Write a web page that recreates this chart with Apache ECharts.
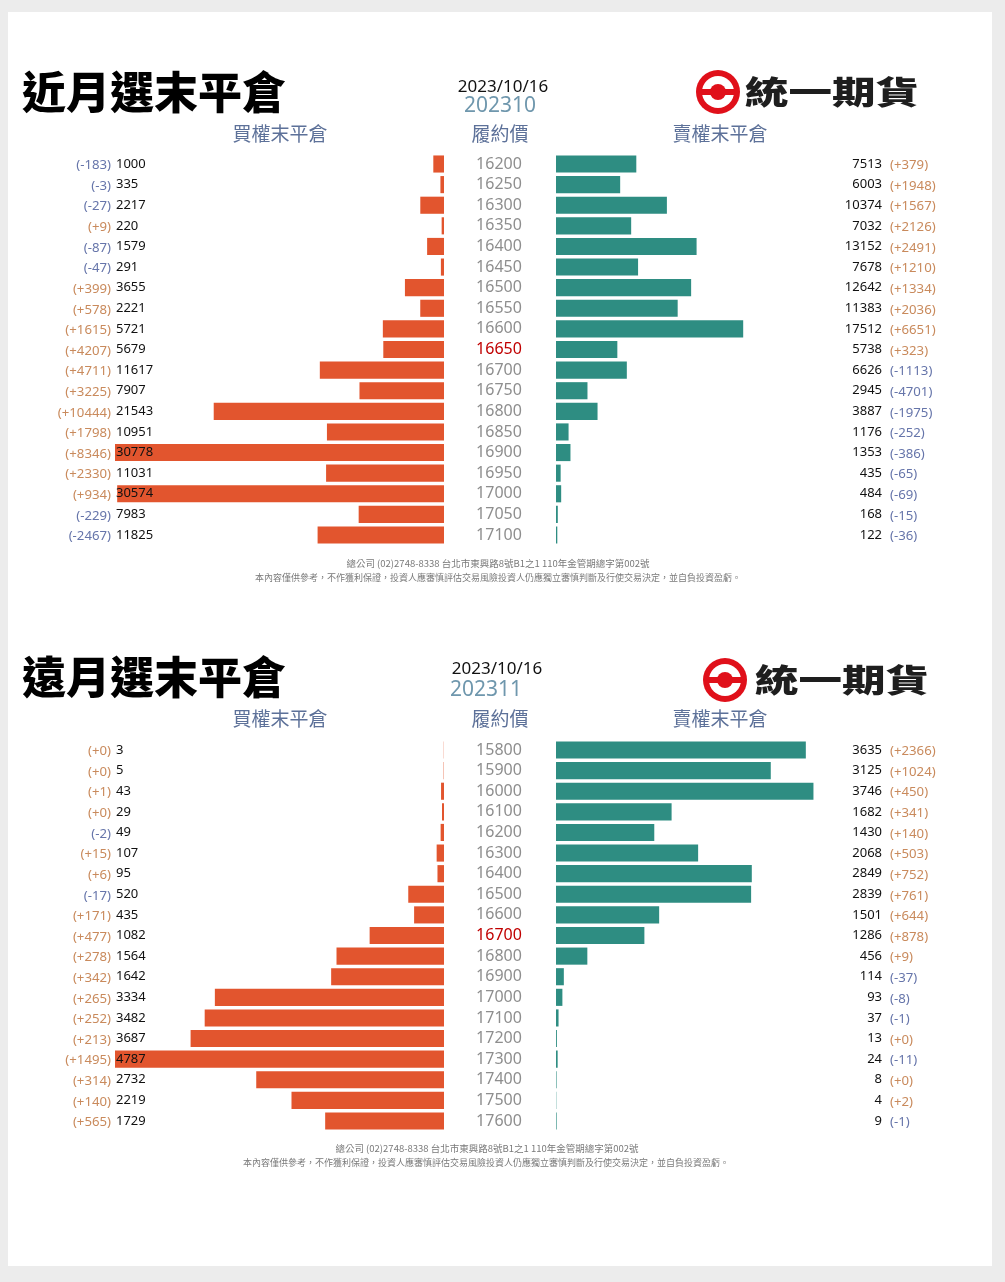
<!DOCTYPE html>
<html><head><meta charset="utf-8">
<script src="https://cdn.jsdelivr.net/npm/echarts@6/dist/echarts.min.js"></script>
<style>
html,body{margin:0;padding:0;background:#ececec;}
#card{position:absolute;left:8px;top:12px;width:984px;height:1254px;background:#fff;}
#chart{position:absolute;left:0;top:0;width:1005px;height:1282px;}
</style></head><body><div id="card"></div><div id="chart"></div>
<script>
// ---- near month (202310) ----
const nearStrikes = ['16200','16250','16300','16350','16400','16450','16500','16550','16600','16650','16700','16750','16800','16850','16900','16950','17000','17050','17100'];
const nearCallOI  = [1000,335,2217,220,1579,291,3655,2221,5721,5679,11617,7907,21543,10951,30778,11031,30574,7983,11825];
const nearCallChg = [-183,-3,-27,9,-87,-47,399,578,1615,4207,4711,3225,10444,1798,8346,2330,934,-229,-2467];
const nearPutOI   = [7513,6003,10374,7032,13152,7678,12642,11383,17512,5738,6626,2945,3887,1176,1353,435,484,168,122];
const nearPutChg  = [379,1948,1567,2126,2491,1210,1334,2036,6651,323,-1113,-4701,-1975,-252,-386,-65,-69,-15,-36];
const nearATM = '16650';

// ---- far month (202311) ----
const farStrikes = ['15800','15900','16000','16100','16200','16300','16400','16500','16600','16700','16800','16900','17000','17100','17200','17300','17400','17500','17600'];
const farCallOI  = [3,5,43,29,49,107,95,520,435,1082,1564,1642,3334,3482,3687,4787,2732,2219,1729];
const farCallChg = [0,0,1,0,-2,15,6,-17,171,477,278,342,265,252,213,1495,314,140,565];
const farPutOI   = [3635,3125,3746,1682,1430,2068,2849,2839,1501,1286,456,114,93,37,13,24,8,4,9];
const farPutChg  = [2366,1024,450,341,140,503,752,761,644,878,9,-37,-8,-1,0,-11,0,2,-1];
const farATM = '16700';

const C_CALL = '#e2552e', C_PUT = '#2e8d82';
const C_POS = '#c98a5c', C_NEG = '#6675aa';
const NUMF = '"Noto Sans", "Open Sans", sans-serif';
const CJK = '"Noto Sans CJK TC", "Noto Sans", sans-serif';

const grids = [], xAxes = [], yAxes = [], series = [];

function chg(v){ return v >= 0 ? '{p|(+' + v + ')}' : '{n|(' + v + ')}'; }
const chgRich = {
  p:{color:C_POS, fontSize:13.2, fontFamily:NUMF, padding:[3,0,0,0]},
  n:{color:C_NEG, fontSize:13.2, fontFamily:NUMF, padding:[3,0,0,0]}
};
const hideLine = {show:false, onZero:false};

function panel(strikes, callOI, callChg, putOI, putChg, atm, top){
  const H = 391.6;
  const gL = grids.length, gR = gL + 1;
  const M = Math.max(...callOI, ...putOI);
  grids.push({left:115, top:top, width:329, height:H});
  grids.push({left:556, top:top, width:329, height:H});
  xAxes.push({gridIndex:gL, type:'value', inverse:true, min:0, max:M, show:false});
  xAxes.push({gridIndex:gR, type:'value', min:0, max:M, show:false});
  const base = {type:'category', data:strikes, inverse:true, axisLine:hideLine, axisTick:{show:false}, splitLine:{show:false}};
  const yL = yAxes.length;
  // left grid: strike column (series axis)
  yAxes.push(Object.assign({}, base, {gridIndex:gL, position:'right',
    axisLabel:{margin:55, align:'center', formatter:v => v === atm ? '{a|' + v + '}' : '{s|' + v + '}',
      rich:{s:{color:'#8e8e8e', fontSize:16, fontFamily:NUMF}, a:{color:'#c00000', fontSize:16, fontFamily:NUMF}}}}));
  // left grid: change labels
  yAxes.push(Object.assign({}, base, {gridIndex:gL, position:'left',
    axisLabel:{margin:4, formatter:(v,i) => chg(callChg[i]), rich:chgRich}}));
  // left grid: OI values (drawn above bars)
  yAxes.push(Object.assign({}, base, {gridIndex:gL, position:'left', z:10,
    axisLabel:{inside:true, margin:1, color:'#111', fontSize:13, fontFamily:NUMF, formatter:(v,i) => String(callOI[i])}}));
  const yR = yAxes.length;
  yAxes.push(Object.assign({}, base, {gridIndex:gR, position:'left', axisLabel:{show:false}}));
  yAxes.push(Object.assign({}, base, {gridIndex:gR, position:'right',
    axisLabel:{inside:true, margin:3, color:'#111', fontSize:13, fontFamily:NUMF, formatter:(v,i) => String(putOI[i])}}));
  yAxes.push(Object.assign({}, base, {gridIndex:gR, position:'right',
    axisLabel:{margin:5, align:'left', formatter:(v,i) => chg(putChg[i]), rich:chgRich}}));
  series.push({type:'bar', xAxisIndex:xAxes.length-2, yAxisIndex:yL, data:callOI, barCategoryGap:'17%',
    itemStyle:{color:C_CALL}, silent:true});
  series.push({type:'bar', xAxisIndex:xAxes.length-1, yAxisIndex:yR, data:putOI, barCategoryGap:'17%',
    itemStyle:{color:C_PUT}, silent:true});
}
panel(nearStrikes, nearCallOI, nearCallChg, nearPutOI, nearPutChg, nearATM, 153.7);
panel(farStrikes, farCallOI, farCallChg, farPutOI, farPutChg, farATM, 739.7);

function txt(x, y, text, font, fill, align){
  return {type:'text', x:x, y:y, z:10, style:{text:text, font:font, fill:fill, align:align || 'center', verticalAlign:'middle'}};
}
function logo(cx, cy, tx){
  return [
    {type:'circle', shape:{cx:cx, cy:cy, r:22}, style:{fill:'#e0101a'}},
    {type:'circle', shape:{cx:cx, cy:cy, r:16}, style:{fill:'#fff'}},
    {type:'rect', shape:{x:cx-16, y:cy-3, width:32, height:6}, style:{fill:'#e0101a'}},
    {type:'circle', shape:{cx:cx, cy:cy, r:8}, style:{fill:'#e0101a'}},
    {type:'text', x:tx, y:cy, scaleX:1.36,
      style:{text:'統一期貨', font:'900 32px ' + CJK, fill:'#1e1e1e', align:'left', verticalAlign:'middle'}}
  ];
}
const HEAD = '19px ' + CJK, HC = '#5d7199';
const FOOT1 = '總公司 (02)2748-8338 台北市東興路8號B1之1 110年金管期總字第002號';
const FOOT2 = '本內容僅供參考，不作獲利保證，投資人應審慎評估交易風險投資人仍應獨立審慎判斷及行使交易決定，並自負投資盈虧。';
const F1 = '9.5px ' + CJK, F2 = '9px ' + CJK, FC = '#7a7a7a';
const graphics = [
  txt(22, 92, '近月選末平倉', '900 44px ' + CJK, '#000', 'left'),
  txt(503, 87, '2023/10/16', '17px ' + NUMF, '#111'),
  txt(500, 106, '202310', '21px ' + NUMF, '#6f97ad'),
  txt(280, 134, '買權末平倉', HEAD, HC),
  txt(500, 134, '履約價', HEAD, HC),
  txt(720, 134, '賣權末平倉', HEAD, HC),
  txt(498, 563, FOOT1, F1, FC),
  txt(498, 578, FOOT2, F2, FC),
  ...logo(718, 92, 745),
  txt(22, 677, '遠月選末平倉', '900 44px ' + CJK, '#000', 'left'),
  txt(497, 669, '2023/10/16', '17px ' + NUMF, '#111'),
  txt(486, 690, '202311', '21px ' + NUMF, '#6f97ad'),
  txt(280, 719, '買權末平倉', HEAD, HC),
  txt(500, 719, '履約價', HEAD, HC),
  txt(720, 719, '賣權末平倉', HEAD, HC),
  txt(487, 1148, FOOT1, F1, FC),
  txt(486, 1163, FOOT2, F2, FC),
  ...logo(725, 680, 755)
];

const chart = echarts.init(document.getElementById('chart'), null, {renderer:'canvas'});
chart.setOption({
  animation:false,
  backgroundColor:'transparent',
  grid:grids, xAxis:xAxes, yAxis:yAxes, series:series,
  graphic:graphics
});
</script></body></html>
